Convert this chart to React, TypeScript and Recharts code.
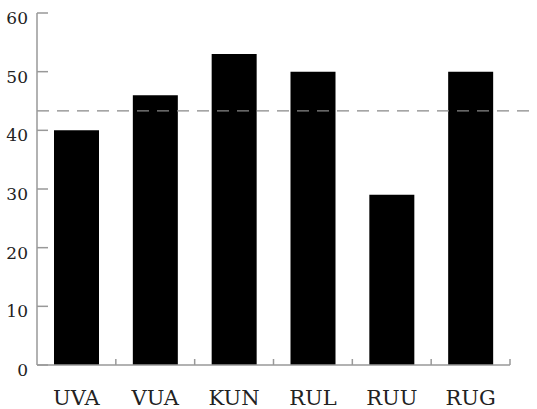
import React from 'react';
import { BarChart, Bar, XAxis, YAxis, ReferenceLine } from 'recharts';

const categories = ['UVA', 'VUA', 'KUN', 'RUL', 'RUU', 'RUG'];
const values = [40, 46, 53, 50, 29, 50];
const yTicks = [0, 10, 20, 30, 40, 50, 60];
const referenceValue = 43.3;

const data = categories.map((name, i) => ({ name, value: values[i] }));

const W = 537;
const H = 409;
const MARGIN = { top: 13, right: 27, left: 0, bottom: 0 };
const Y_WIDTH = 37;
const X_HEIGHT = 44;
const BAND = (W - MARGIN.left - MARGIN.right - Y_WIDTH) / categories.length;
const AXIS_COLOR = '#999';
const TEXT_COLOR = '#222';
const FONT = '"DejaVu Serif", serif';

const YTick = (props: any) => {
  const { x, y, payload } = props;
  return (
    <g>
      <line x1={x} x2={x + 11} y1={y} y2={y} stroke={AXIS_COLOR} strokeWidth={1.5} />
      <text x={x - 9} y={y + 11} textAnchor="end" fontSize={17} fontFamily={FONT} fill={TEXT_COLOR}>
        {payload.value}
      </text>
    </g>
  );
};

const XTick = (props: any) => {
  const { x, y, payload } = props;
  return (
    <g>
      <line x1={x + BAND / 2} x2={x + BAND / 2} y1={y} y2={y - 6} stroke={AXIS_COLOR} strokeWidth={1.5} />
      <text x={x} y={y + 40} textAnchor="middle" fontSize={21} fontFamily={FONT} fill={TEXT_COLOR}>
        {payload.value}
      </text>
    </g>
  );
};

const RefShape = (props: any) => {
  const { x1, y1, x2, y2 } = props;
  return (
    <line x1={x1} y1={y1} x2={x2 + MARGIN.right} y2={y2} stroke="#888" strokeWidth={1.2} strokeDasharray="12 8" />
  );
};

export default function App() {
  return (
    <div style={{ position: 'absolute', left: 0, top: 0, background: '#fff' }}>
      <BarChart width={W} height={H} data={data} margin={MARGIN}>
        <XAxis
          dataKey="name"
          height={X_HEIGHT}
          tickSize={0}
          tickMargin={0}
          tick={<XTick />}
          axisLine={{ stroke: AXIS_COLOR, strokeWidth: 1.5 }}
          interval={0}
        />
        <YAxis
          width={Y_WIDTH}
          domain={[0, 60]}
          ticks={yTicks}
          tickSize={0}
          tickMargin={0}
          tick={<YTick />}
          axisLine={{ stroke: AXIS_COLOR, strokeWidth: 1.5 }}
          interval={0}
        />
        <ReferenceLine y={referenceValue} shape={<RefShape />} />
        <Bar dataKey="value" fill="#000" barSize={45} isAnimationActive={false} />
      </BarChart>
    </div>
  );
}
